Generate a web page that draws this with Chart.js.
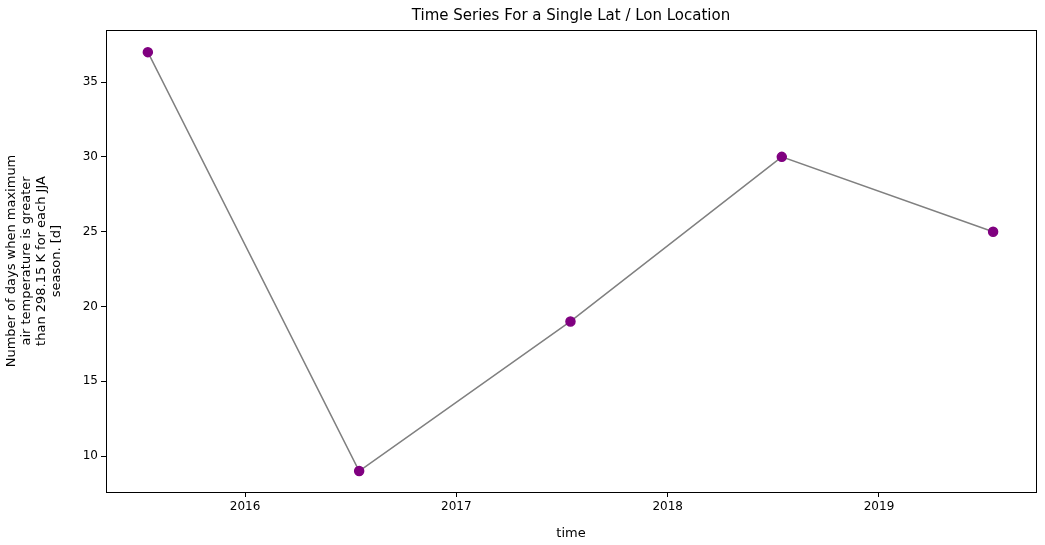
<!DOCTYPE html>
<html>
<head>
<meta charset="utf-8">
<script src="https://cdn.jsdelivr.net/npm/chart.js@4"></script>
<style>
  body { margin: 0; background: #fff; }
  #wrap { width: 1045px; height: 545px; }
</style>
</head>
<body>
<div id="wrap"><canvas id="chart"></canvas></div>
<script>
// data (mid-year JJA seasons)
const years = [2015.54, 2016.54, 2017.54, 2018.54, 2019.54];
const days = [37, 9, 19, 30, 25];
const xTicks = [2016, 2017, 2018, 2019];
const yTicks = [10, 15, 20, 25, 30, 35];

const FONT = 'DejaVu Sans';

// frame around plot + title on top
const framePlugin = {
    id: 'frame',
    afterDraw(chart) {
        const { ctx, chartArea: a } = chart;
        ctx.save();
        ctx.strokeStyle = '#000';
        ctx.lineWidth = 1;
        ctx.strokeRect(a.left + 0.5, a.top + 0.5, a.right - a.left, a.bottom - a.top);
        ctx.fillStyle = '#000';
        ctx.font = '15px ' + FONT;
        ctx.textAlign = 'center';
        ctx.textBaseline = 'bottom';
        ctx.fillText('Time Series For a Single Lat / Lon Location', (a.left + a.right) / 2, a.top - 6);
        ctx.restore();
    }
};

new Chart(document.getElementById('chart'), {
    type: 'line',
    data: {
        datasets: [{
            data: years.map((x, i) => ({ x: x, y: days[i] })),
            borderColor: '#808080',
            borderWidth: 1.5,
            pointBackgroundColor: '#800080',
            pointBorderColor: '#800080',
            pointRadius: 4.5,
            tension: 0
        }]
    },
    options: {
        responsive: true,
        maintainAspectRatio: false,
        animation: false,
        layout: { padding: { left: 0, top: 30, right: 9, bottom: 0 } },
        plugins: { legend: { display: false }, tooltip: { enabled: false } },
        scales: {
            x: {
                type: 'linear',
                min: 2015.342,
                max: 2019.743,
                afterBuildTicks: s => { s.ticks = xTicks.map(v => ({ value: v })); },
                afterFit: s => { s.height = 53; },
                grid: { drawOnChartArea: false, tickLength: 5, color: '#000' },
                border: { display: false },
                ticks: { color: '#000', font: { family: FONT, size: 12 }, maxRotation: 0, callback: v => String(v) },
                title: { display: true, text: 'time', color: '#000', font: { family: FONT, size: 13 }, padding: { top: 2 } }
            },
            y: {
                min: 7.6,
                max: 38.48,
                afterBuildTicks: s => { s.ticks = yTicks.map(v => ({ value: v })); },
                afterFit: s => { s.width = 106; },
                grid: { drawOnChartArea: false, tickLength: 5, color: '#000' },
                border: { display: false },
                ticks: { color: '#000', font: { family: FONT, size: 12 } },
                title: {
                    display: true,
                    text: ['Number of days when maximum', 'air temperature is greater', 'than 298.15 K for each JJA', 'season. [d]'],
                    color: '#000',
                    font: { family: FONT, size: 13, lineHeight: 1.15 },
                    padding: { bottom: 4 }
                }
            }
        }
    },
    plugins: [framePlugin]
});
</script>
</body>
</html>
